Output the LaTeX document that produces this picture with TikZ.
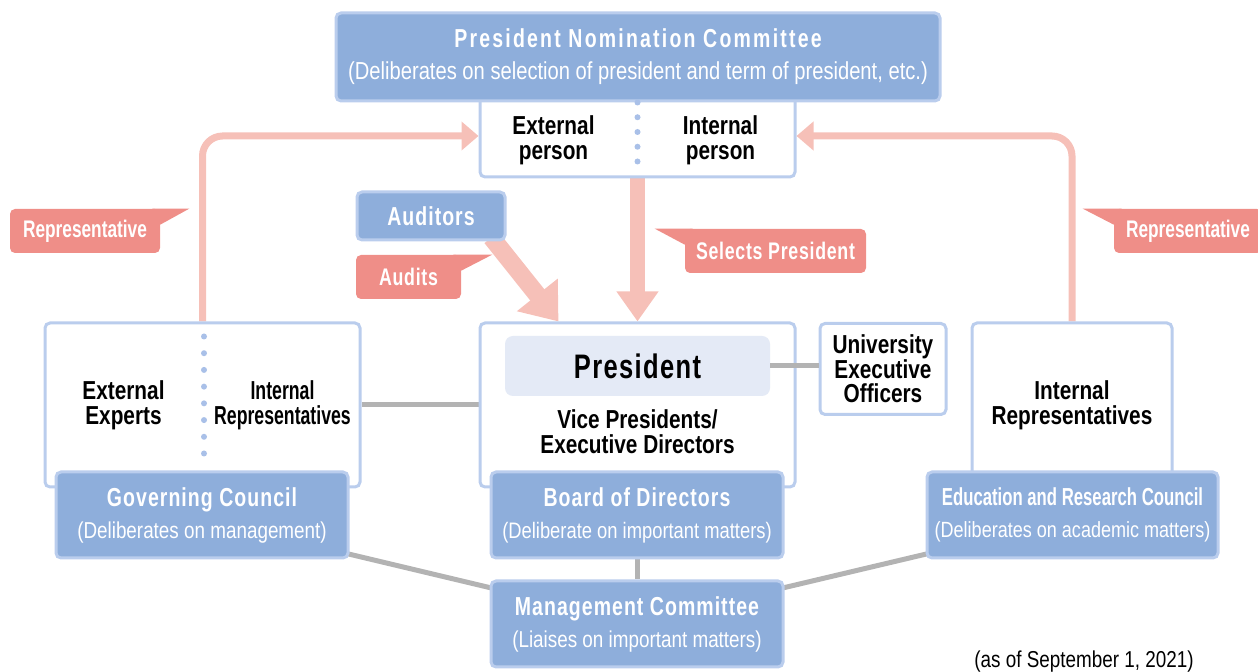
\documentclass[tikz,border=0pt]{standalone}
\usepackage{fontspec}
\setmainfont{Liberation Sans}[FakeStretch=0.82]
\newfontfamily\narrowface{Liberation Sans}[FakeStretch=0.8]
\newfontfamily\squeezeface{Liberation Sans}[FakeStretch=0.68]
\newfontfamily\trackface{Liberation Sans}[FakeStretch=0.75,LetterSpace=4]
\newfontfamily\widetrackface{Liberation Sans}[FakeStretch=0.75,LetterSpace=8.5]
\newfontfamily\tagface{Liberation Sans}[FakeStretch=0.74,LetterSpace=3]
\newfontfamily\tagtightface{Liberation Sans}[FakeStretch=0.72]
\usetikzlibrary{arrows.meta}
\usetikzlibrary{backgrounds}

\definecolor{boxblue}{HTML}{8EAEDB}
\definecolor{edgeblue}{HTML}{BACDED}
\definecolor{dotblue}{HTML}{A9C0E8}
\definecolor{paleblue}{HTML}{E4EAF6}
\definecolor{arrowpink}{HTML}{F6C0B8}
\definecolor{tagred}{HTML}{EF8E88}
\definecolor{linkgray}{HTML}{B3B3B3}

\newcommand\boxtitle[1]{{\trackface\bfseries\fontsize{13}{15}\selectfont #1}}
\newcommand\boxnote[2][11.5]{{\fontsize{#1}{13}\selectfont #2}}

\tikzset{
  namebox/.style={draw=edgeblue, line width=1.5pt, fill=boxblue, rounded corners=2.5pt,
    text=white, align=center, inner sep=0pt, font=\fontsize{11.5}{16}\selectfont},
  whitebox/.style={draw=edgeblue, line width=1.5pt, fill=white, rounded corners=2.5pt,
    align=center, inner sep=0pt, font=\narrowface\bfseries\fontsize{13}{12.3}\selectfont},
  plainlabel/.style={align=center, inner sep=0pt, font=\narrowface\bfseries\fontsize{13}{12.3}\selectfont},
  tagbox/.style={fill=tagred, rounded corners=2.5pt, text=white, inner sep=0pt,
    font=\tagface\bfseries\fontsize{12}{14}\selectfont},
  link/.style={draw=linkgray, line width=2.5pt},
  feed/.style={draw=arrowpink, line width=3.5pt, rounded corners=10pt,
    -{Triangle[length=8.5pt,width=14pt]}},
  bigfeed/.style={draw=arrowpink, line width=7.5pt, -{Triangle[length=15pt,width=20pt]}},
  dotline/.style={draw=dotblue, line width=3pt, line cap=round},
}

\begin{document}
\begin{tikzpicture}[x=0.5pt,y=-0.5pt]
  \useasboundingbox (0,0) rectangle (1258,672);

  % Nomination of the president
  \node[whitebox, minimum width=157.5pt, minimum height=41pt] (sel) at (637.5,136) {};
  \node[namebox, minimum width=302pt, minimum height=44pt] (pnc) at (638,57)
    {{\widetrackface\bfseries\fontsize{13}{15}\selectfont President Nomination Committee}\\\boxnote[12.3]{(Deliberates on selection of president and term of president, etc.)}};
  \node[plainlabel] (extp) at ([shift={(-84,4)}]sel.center) {External\\person};
  \node[plainlabel] (intp) at ([shift={(83,4)}]sel.center) {Internal\\person};
  \draw[dotline, dash pattern=on 0pt off 7.375pt] ([shift={(0,9)}]sel.north) -- ([shift={(0,-14)}]sel.south);

  % Middle row
  \node[whitebox, minimum width=157.5pt, minimum height=82pt] (lbox) at (202.5,405) {};
  \node[plainlabel] (extx) at ([shift={(-79,0)}]lbox.center) {External\\Experts};
  \node[plainlabel, font=\squeezeface\bfseries\fontsize{13}{12.3}\selectfont] (intr) at ([shift={(80,0)}]lbox.center) {Internal\\Representatives};
  \draw[dotline, dash pattern=on 0pt off 8.357pt] ([shift={(1.5,15)}]lbox.north) -- ([shift={(1.5,-32)}]lbox.south);

  \node[whitebox, minimum width=157.5pt, minimum height=82pt] (pres) at (637.5,405) {};
  \node[fill=paleblue, rounded corners=4pt, minimum width=132.5pt, minimum height=30pt, inner sep=0pt,
    font=\trackface\bfseries\fontsize{17}{19}\selectfont] (presin) at (637.5,366) {President};
  \node[plainlabel] (vice) at (637.5,432) {Vice Presidents/\\Executive Directors};

  \node[whitebox, minimum width=63pt, minimum height=45.5pt] (ueo) at (883,369) {University\\Executive\\Officers};
  \node[whitebox, minimum width=100pt, minimum height=82pt] (rbox) at (1072,405) {Internal\\Representatives};

  % Councils
  \node[namebox, minimum width=146pt, minimum height=43pt] (gc) at (202,515)
    {\boxtitle{Governing Council}\\\boxnote{(Deliberates on management)}};
  \node[namebox, minimum width=146pt, minimum height=43pt] (bod) at (637,515)
    {\boxtitle{Board of Directors}\\\boxnote[11.2]{(Deliberate on important matters)}};
  \node[namebox, minimum width=145.5pt, minimum height=43pt] (erc) at (1072.5,515)
    {{\squeezeface\bfseries\fontsize{12.3}{15}\selectfont Education and Research Council}\\\boxnote[11]{(Deliberates on academic matters)}};
  \node[namebox, minimum width=146pt, minimum height=43pt] (mc) at (637,624)
    {\boxtitle{Management Committee}\\\boxnote{(Liaises on important matters)}};

  \node[namebox, minimum width=74pt, minimum height=24pt] (aud) at (431,216) {\boxtitle{Auditors}};

  % Connectors
  \begin{scope}[on background layer]
    \draw[feed] (lbox.north) |- (sel.west);
    \draw[feed] (rbox.north) |- (sel.east);
    \draw[bigfeed] (sel.south) -- (pres.north);
    \draw[bigfeed, line width=9pt, -{Triangle[length=17pt,width=25pt]}]
      ([shift={(-15,-4)}]aud.south east) -- ([shift={(80,0)}]pres.north west);
    \draw[link] (lbox.east) -- (pres.west);
    \draw[link] (bod.south) -- (mc.north);
    \draw[link] ([shift={(-3,-6)}]gc.south east) -- ([shift={(4,9)}]mc.north west);
    \draw[link] ([shift={(3,-6)}]erc.south west) -- ([shift={(-4,9)}]mc.north east);
  \end{scope}
  \draw[link] (presin.east) -- (presin.east -| ueo.west);

  % Tags
  \node[tagbox, font=\tagtightface\bfseries\fontsize{12}{14}\selectfont, minimum width=75pt, minimum height=22pt] (repl) at (85,231) {Representative};
  \fill[tagred] ([shift={(-8,0)}]repl.north east) -- ([shift={(29,0)}]repl.north east) -- ([shift={(0,16)}]repl.north east) -- cycle;
  \node[tagbox, minimum width=52.5pt, minimum height=22pt] (audits) at (408.5,277) {Audits};
  \fill[tagred] ([shift={(-8,0)}]audits.north east) -- ([shift={(31,0)}]audits.north east) -- ([shift={(0,16)}]audits.north east) -- cycle;
  \node[tagbox, minimum width=90.5pt, minimum height=22pt] (sels) at (775.5,251) {Selects President};
  \fill[tagred] ([shift={(8,0)}]sels.north west) -- ([shift={(-30,0)}]sels.north west) -- ([shift={(0,16)}]sels.north west) -- cycle;
  \node[tagbox, font=\tagtightface\bfseries\fontsize{12}{14}\selectfont, minimum width=74pt, minimum height=22pt] (repr) at (1188,231) {Representative};
  \fill[tagred] ([shift={(8,0)}]repr.north west) -- ([shift={(-31,0)}]repr.north west) -- ([shift={(0,16)}]repr.north west) -- cycle;

  % Date
  \node[font=\fontsize{11.5}{13}\selectfont, inner sep=0pt] (date) at (1084,662) {(as of September 1, 2021)};
\end{tikzpicture}
\end{document}
